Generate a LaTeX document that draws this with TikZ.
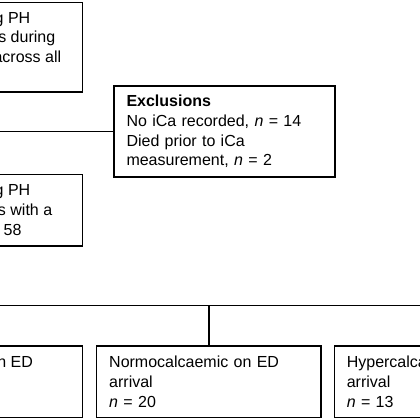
\documentclass[tikz,border=0pt]{standalone}
\usepackage{fontspec}
\setmainfont{Liberation Sans}
\usepackage{tikz}
\newcommand{\flowfont}{\fontsize{16pt}{19.7pt}\selectfont}
\tikzset{
  box/.style={draw,rectangle,line width=1.5pt,inner sep=0pt,outer sep=0pt},
  txt/.style={font=\flowfont,align=left,inner xsep=12.5pt,inner ysep=0pt},
  frag/.style={font=\flowfont,anchor=base west,inner sep=0pt},
  link/.style={line width=1.5pt}
}

\begin{document}
\begin{tikzpicture}[x=1pt,y=-1pt]
\useasboundingbox (0,0) rectangle (420,420);
\clip (0,0) rectangle (420,420);
% boxes cut by the left edge
\node[box,minimum width=232.7pt,minimum height=89.5pt,anchor=north east] (screen) at (82.7,2.5) {};
\node[frag] (scrA) at (-5.5,23.5) {g PH};
\node[frag] (scrB) at (-1.9,43) {s during};
\node[frag] (scrC) at (-6.6,62.5) {across all};
\node[box,minimum width=232.7pt,minimum height=71.7pt,anchor=north east] (cohort) at (82.7,174.3) {};
\node[frag] (cohA) at (-5.5,195) {g PH};
\node[frag] (cohB) at (-2.2,215) {s with a};
\node[frag] (cohC) at (3.5,235) {58};
% exclusions
\node[box,txt,minimum width=221pt,minimum height=91pt,text width=196pt,anchor=north west] (excl) at (114,86)
  {\textbf{Exclusions}\\No iCa recorded, \textit{n} = 14\\Died prior to iCa\\measurement, \textit{n} = 2};
\coordinate (spine) at (-100,131.5);
\draw[link] (spine) -- (excl.west);
% ED arrival groups
\node[box,minimum width=232.7pt,minimum height=71.7pt,anchor=north east] (hypo) at (82.7,346) {};
\node[frag] (hypoA) at (-2.9,367) {n ED};
\node[box,txt,minimum width=224.3pt,minimum height=71.7pt,text width=199.3pt,anchor=north west] (normo) at (96.7,346)
  {Normocalcaemic on ED\\arrival\\\textit{n} = 20};
\node[box,txt,minimum width=224pt,minimum height=71.7pt,text width=199pt,anchor=north west] (hyper) at (334.3,346)
  {Hypercalca\\arrival\\\textit{n} = 13};
\coordinate (barL) at (-100,305.7);
\coordinate (barR) at (520,305.7);
\draw[link] (barL) -- (barR);
\draw[link] (normo.north) -- (normo.north |- barL);
\end{tikzpicture}
\end{document}
